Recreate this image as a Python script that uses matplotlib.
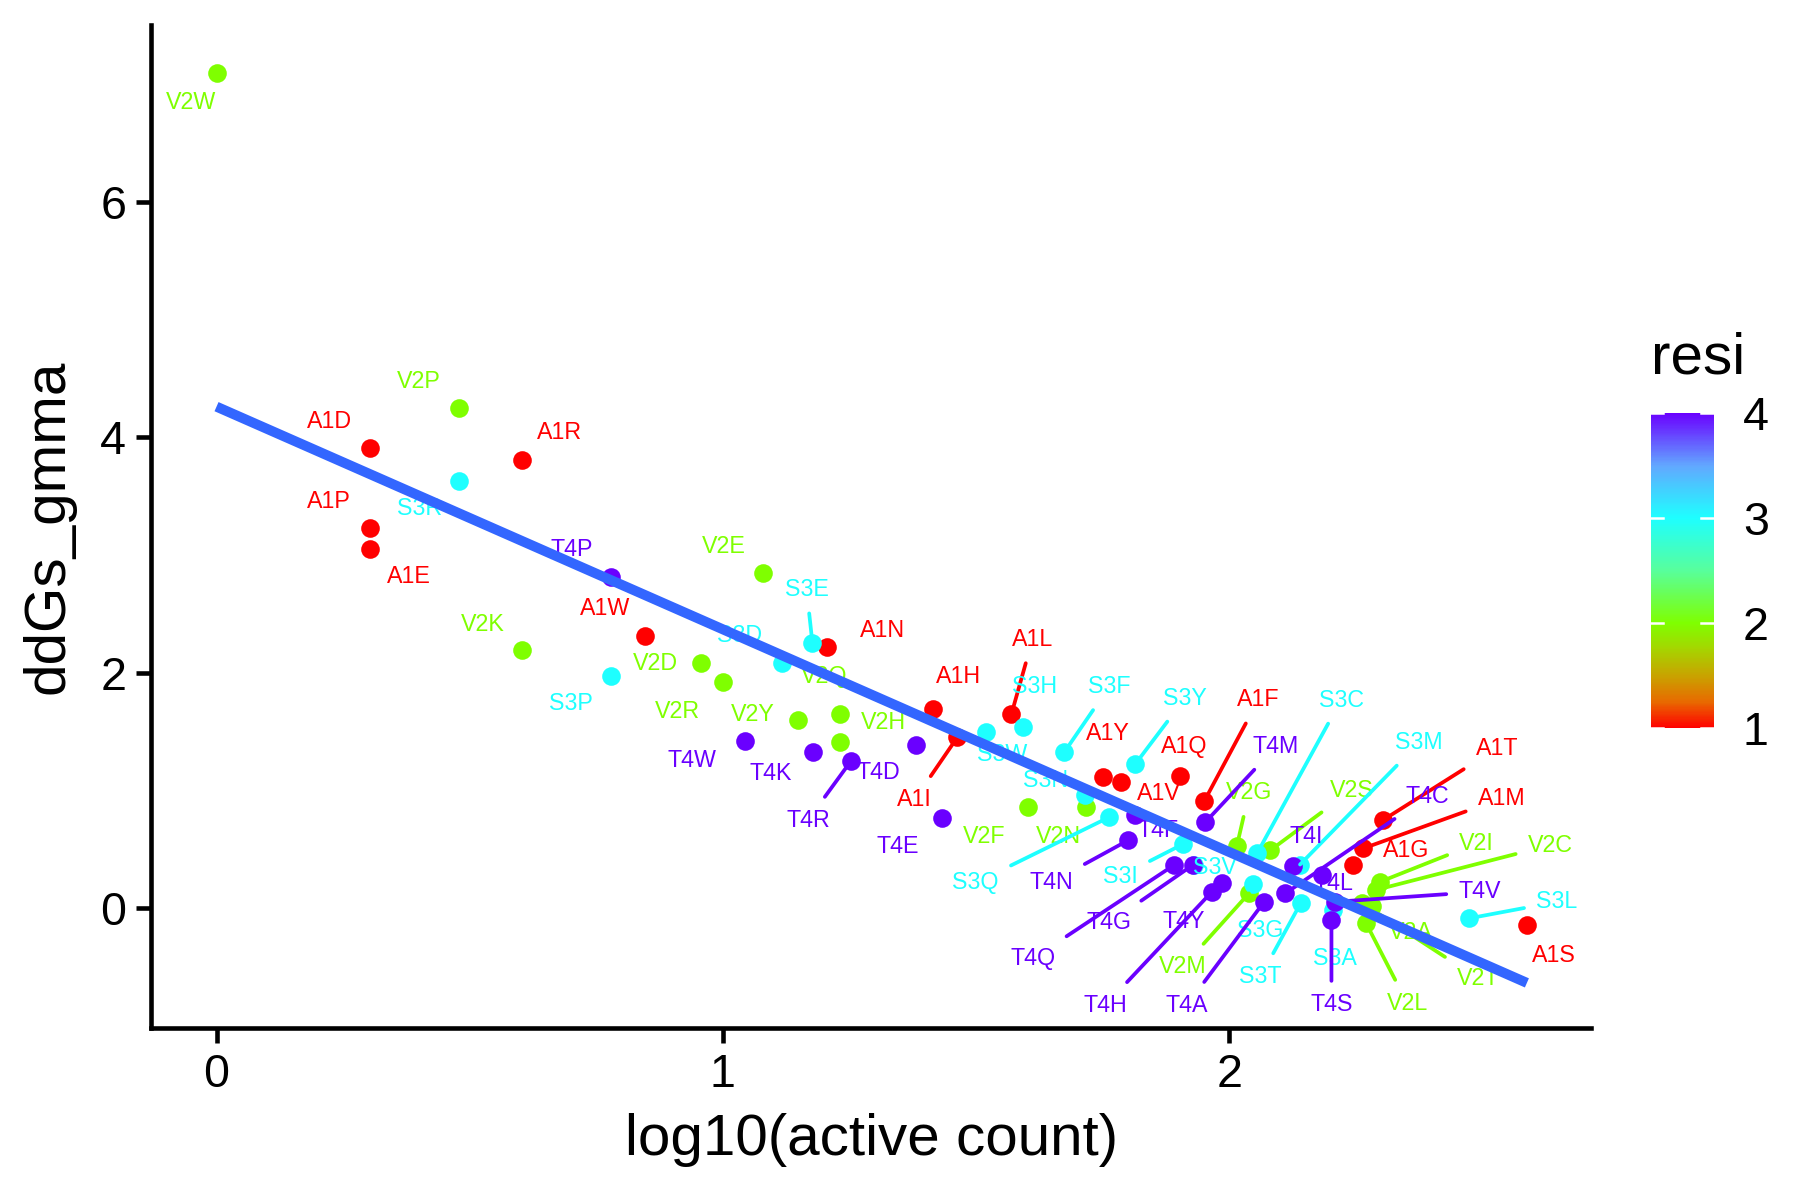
import numpy as np
import matplotlib
matplotlib.use("Agg")
import matplotlib.pyplot as plt
from matplotlib.colors import LinearSegmentedColormap, Normalize
from matplotlib.colorbar import ColorbarBase

plt.rcParams['font.family'] = ['Liberation Sans', 'DejaVu Sans']

# ---------------- data ----------------
labels_a = ["A1D", "A1R", "A1P", "A1E", "A1W", "A1N", "A1H", "A1I", "A1L", "A1Y",
            "A1V", "A1Q", "A1F", "A1T", "A1M", "A1G", "A1S"]
x_a = [0.303, 0.603, 0.303, 0.303, 0.846, 1.206, 1.416, 1.463, 1.570, 1.750,
       1.787, 1.903, 1.951, 2.304, 2.265, 2.244, 2.588]
y_a = [3.906, 3.81, 3.23, 3.05, 2.311, 2.214, 1.688, 1.45, 1.648, 1.116,
       1.072, 1.12, 0.91, 0.748, 0.507, 0.37, -0.144]

labels_v = ["V2W", "V2P", "V2E", "V2K", "V2D", "V2R", "V2Y", "V2Q", "V2H", "V2F",
            "V2N", "V2G", "V2S", "V2I", "V2C", "V2T", "V2A", "V2L", "V2M"]
x_v = [0.0, 0.478, 1.080, 0.603, 0.956, 1.000, 1.148, 1.232, 1.232, 1.603,
       1.717, 2.015, 2.081, 2.298, 2.289, 2.263, 2.282, 2.270, 2.039]
y_v = [7.09, 4.25, 2.848, 2.19, 2.08, 1.922, 1.597, 1.648, 1.407, 0.855,
       0.86, 0.525, 0.49, 0.223, 0.153, 0.042, 0.02, -0.125, 0.125]

labels_s = ["S3R", "S3P", "S3D", "S3E", "S3W", "S3H", "S3F", "S3Y", "S3N", "S3Q",
            "S3I", "S3V", "S3C", "S3M", "S3G", "S3T", "S3A", "S3L"]
x_s = [0.478, 0.779, 1.116, 1.177, 1.520, 1.592, 1.674, 1.814, 1.715, 1.762,
       1.909, 1.930, 2.055, 2.140, 2.047, 2.141, 2.206, 2.473]
y_s = [3.63, 1.973, 2.08, 2.248, 1.492, 1.54, 1.322, 1.22, 0.96, 0.77,
       0.544, 0.365, 0.464, 0.37, 0.204, 0.04, -0.02, -0.088]

labels_t = ["T4P", "T4W", "T4K", "T4R", "T4D", "T4E", "T4F", "T4N", "T4M", "T4Q",
            "T4G", "T4Y", "T4H", "T4A", "T4I", "T4L", "T4C", "T4S", "T4V"]
x_t = [0.779, 1.043, 1.178, 1.253, 1.382, 1.432, 1.814, 1.801, 1.953, 1.891,
       1.928, 1.985, 1.966, 2.069, 2.127, 2.183, 2.111, 2.202, 2.209]
y_t = [2.81, 1.419, 1.325, 1.249, 1.385, 0.767, 0.79, 0.577, 0.73, 0.365,
       0.365, 0.21, 0.139, 0.053, 0.36, 0.28, 0.125, -0.10, 0.053]

resi_values = [1, 2, 3, 4]

# ---------------- label layout (offsets in 300-dpi pixels, y down) ----------------
off_a = [(-40.6, -26.6), (38.1, -26.6), (-40.6, -26.6), (39, 27.7), (-40.2, -27.7),
         (55.4, -17.3), (25.3, -33.3), (-42.5, 62), (21, -74.7), (5, -43.4),
         (38, 12), (3.7, -29.3), (54, -101), (113.7, -71.7), (138.4, -50),
         (53.3, -13.6), (26.5, 30)]
off_v = [(-25, 28.7), (-39.4, -26.6), (-39.4, -26), (-39.3, -26), (-44.8, 0.7),
         (-45.2, 30), (-44.5, -6), (-16.2, -38), (42.7, -19.6), (-44.2, 29.4),
         (-27, 29.3), (12.3, -53.3), (81.5, -60.3), (96.7, -38.4), (175, -45),
         (115.7, 75.3), (38.5, 27), (41.4, 80.6), (-66, 73.4)]
off_s = [(-39.4, 28), (-39.8, 27.6), (-42.5, -27.7), (-5.9, -54), (16.5, 21.7),
         (12.3, -40), (44.9, -65.6), (49.8, -66), (-39.7, -15), (-133, 65.4),
         (-62.6, 32), (21, 2), (84, -153.3), (119, -121.7), (7, 46),
         (-40.2, 73.4), (1.4, 48.3), (88.4, -16.6)]
off_t = [(-39, -27.3), (-52.7, 19.7), (-42, 21.3), (-43, 59), (-38, 27.7),
         (-43.8, 28.3), (23.3, 15), (-77.5, 42.4), (70.3, -75.3), (-140.8, 93.3),
         (-83.5, 57.8), (-38.2, 38.4), (-106.4, 113.3), (-77.2, 103.3), (12.5, -28.8),
         (11.5, 8.3), (141.7, -96.6), (0, 85), (145, -10)]
segment_labels = {"A1I", "A1L", "A1F", "A1T", "A1M",
                  "V2G", "V2S", "V2I", "V2C", "V2T", "V2L", "V2M",
                  "S3E", "S3F", "S3Y", "S3Q", "S3I", "S3C", "S3M", "S3T", "S3L",
                  "T4R", "T4N", "T4M", "T4Q", "T4G", "T4H", "T4A", "T4C", "T4S", "T4V"}

# ---------------- colour scale ----------------
cmap = LinearSegmentedColormap.from_list("resi", [
    (0.000, "#FF0000"),
    (0.083, "#E86A00"),
    (0.167, "#C8A400"),
    (0.250, "#A6D400"),
    (0.333, "#7FFF00"),
    (0.500, "#58FF9C"),
    (0.667, "#1EFFFF"),
    (0.833, "#62A8FF"),
    (1.000, "#6A00FF"),
])
norm = Normalize(vmin=1, vmax=4)

groups = [
    (labels_a, x_a, y_a, off_a, resi_values[0]),
    (labels_v, x_v, y_v, off_v, resi_values[1]),
    (labels_s, x_s, y_s, off_s, resi_values[2]),
    (labels_t, x_t, y_t, off_t, resi_values[3]),
]

fig = plt.figure(figsize=(6, 4), dpi=300)
ax = fig.add_axes([0.084, 0.1437, 0.8, 0.8353])

px2pt = 72.0 / 300.0
for labs, xs, ys, offs, r in groups:
    col = cmap(norm(r))
    ax.scatter(xs, ys, s=20, color=col, linewidths=0, zorder=2)
    for lab, xv, yv, (dx, dy) in zip(labs, xs, ys, offs):
        kw = {}
        if lab in segment_labels:
            kw["arrowprops"] = dict(arrowstyle="-", color=col, lw=0.9,
                                    shrinkA=1.0, shrinkB=0)
        ax.annotate(lab, xy=(xv, yv), xytext=(dx * px2pt, -dy * px2pt),
                    textcoords="offset points", ha="center", va="center",
                    fontsize=5.6, color=col, zorder=3, **kw)

# linear fit
all_x = np.array(x_a + x_v + x_s + x_t)
all_y = np.array(y_a + y_v + y_s + y_t)
coef = np.polyfit(all_x, all_y, 1)
xx = np.linspace(all_x.min(), all_x.max(), 100)
ax.plot(xx, np.polyval(coef, xx), color="#3366FF", lw=2.4, zorder=4,
        solid_capstyle="butt")

ax.set_xlim(-0.129, 2.715)
ax.set_ylim(-1.015, 7.50)
ax.set_xticks([0, 1, 2])
ax.set_yticks([0, 2, 4, 6])
for side in ["top", "right"]:
    ax.spines[side].set_visible(False)
for side in ["left", "bottom"]:
    ax.spines[side].set_linewidth(1.1)
ax.tick_params(axis="both", labelsize=11.2, width=1.1, length=3.5, pad=2.5,
               colors="black")
ax.set_xlabel("log10(active count)", fontsize=14, labelpad=4)
ax.set_ylabel("ddGs_gmma", fontsize=14, labelpad=6)

# colour bar legend
cax = fig.add_axes([0.917, 0.393, 0.035, 0.263])
cb = ColorbarBase(cax, cmap=cmap, norm=norm, ticks=resi_values)
cb.outline.set_visible(False)
cax.tick_params(length=0, labelsize=11.2, pad=7)
for v in resi_values:
    cax.plot([0, 0.2], [v, v], color="white", lw=0.6, clip_on=False)
    cax.plot([0.8, 1.0], [v, v], color="white", lw=0.6, clip_on=False)
cax.set_xlim(0, 1)
fig.text(1651 / 1800, 1 - 359 / 1200, "resi", fontsize=14, ha="left", va="center")

fig.savefig("out.png", dpi=300)
